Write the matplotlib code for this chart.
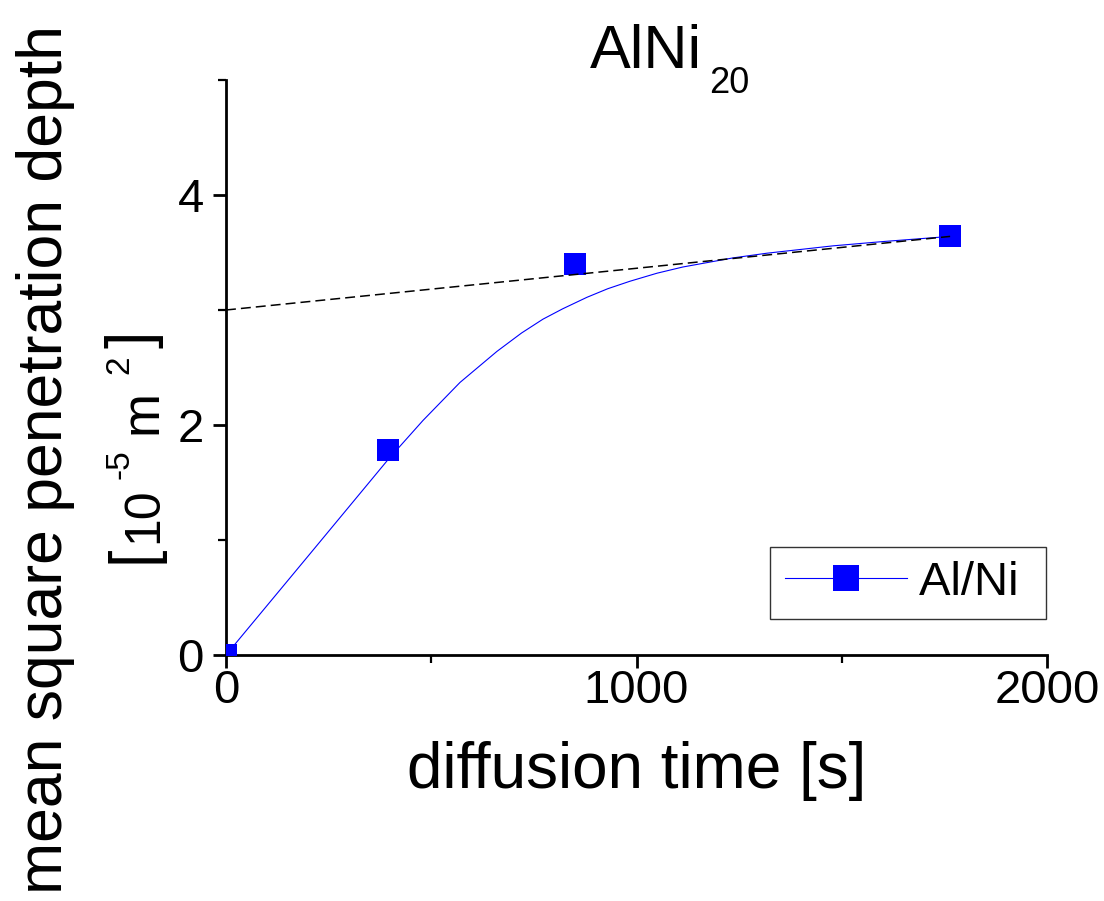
import matplotlib
matplotlib.use("Agg")
import matplotlib.pyplot as plt

plt.rcParams['font.family'] = ['Liberation Sans', 'DejaVu Sans']
plt.rcParams['mathtext.default'] = 'regular'

# ---- data ----
time_s = [0, 395, 850, 1764]
msd = [0.0, 1.78, 3.40, 3.64]

curve_t = [0, 200, 395, 480, 570, 660, 720, 772, 820, 879, 930, 984, 1050,
           1113, 1235, 1318, 1479, 1600, 1764]
curve_msd = [0, 0.86, 1.70, 2.04, 2.37, 2.64, 2.80, 2.92, 3.01, 3.11, 3.185, 3.25, 3.32,
             3.374, 3.453, 3.494, 3.558, 3.595, 3.64]

asym_t = [0, 1764]
asym_msd = [3.00, 3.64]

x_major = [0, 1000, 2000]
x_minor = [500, 1500]
y_major = [0, 2, 4]
y_minor = [1, 3, 5]

series_label = "Al/Ni"
xlabel = "diffusion time [s]"
ylabel_1 = "mean square penetration depth"

W, H = 1104, 901
fig = plt.figure(figsize=(W / 100, H / 100), dpi=100)


def fx(px):
    return px / W


def fy(py):
    return 1 - py / H


ax = fig.add_axes([fx(226), fy(655), fx(1047) - fx(226), fy(80) - fy(655)])

blue = (0, 0, 1)
ax.plot(curve_t, curve_msd, color=blue, lw=0.8, zorder=2)
ax.plot(time_s, msd, linestyle='none', marker='s', ms=16, color=blue,
        markeredgewidth=0, zorder=3)
ax.plot(asym_t, asym_msd, color='black', lw=1.1, dashes=[6.5, 3.3], zorder=4)

# legend proxy
h, = ax.plot([], [], color=blue, lw=0.8, marker='s', ms=16, markeredgewidth=0)

ax.set_xlim(0, 2000)
ax.set_ylim(0, 5)
ax.set_xticks(x_major)
ax.set_xticks(x_minor, minor=True)
ax.set_yticks(y_major)
ax.set_yticks(y_minor, minor=True)
ax.set_xticklabels([str(v) for v in x_major])
ax.set_yticklabels([str(v) for v in y_major])

for s in ['top', 'right']:
    ax.spines[s].set_visible(False)
for s in ['left', 'bottom']:
    ax.spines[s].set_linewidth(2.0)

ax.tick_params(which='major', direction='out', length=9.4, width=2.0, labelsize=34)
ax.tick_params(which='minor', direction='out', length=5.8, width=1.6)
ax.tick_params(axis='y', which='major', pad=6.5)
ax.tick_params(axis='x', which='major', pad=1)

leg = ax.legend([h], [series_label + " "], loc='lower right',
                bbox_to_anchor=(fx(1046), fy(619)), bbox_transform=fig.transFigure,
                fontsize=34, frameon=True, fancybox=False, edgecolor='black',
                borderpad=0.3, handlelength=2.6, handletextpad=0.25,
                markerscale=1.2, borderaxespad=0)
leg.get_frame().set_linewidth(1.0)

# title
fig.text(fx(590), fy(68), "AlNi", fontsize=44, ha='left', va='baseline')
fig.text(fx(709), fy(93), "20", fontsize=26, ha='left', va='baseline')

# x label
fig.text(fx(636.5), fy(788), xlabel, fontsize=46, ha='center', va='baseline')

# y label line 1
fig.text(fx(62), fy(460), ylabel_1, fontsize=45, rotation=90,
         rotation_mode='anchor', ha='center', va='baseline')

# y label line 2: [10^-5 m^2]
kw = dict(rotation=90, rotation_mode='anchor', ha='left', va='baseline')
fig.text(fx(150), fy(563), "[", fontsize=45, **kw)
fig.text(fx(157), fy(543), "10", fontsize=36, **kw)
fig.text(fx(128), fy(479), "-5", fontsize=24, **kw)
fig.text(fx(157), fy(434), "m", fontsize=38, **kw)
fig.text(fx(128), fy(374), "2", fontsize=24, **kw)
fig.text(fx(150), fy(348), "]", fontsize=45, **kw)

fig.savefig("out.png", dpi=100)
